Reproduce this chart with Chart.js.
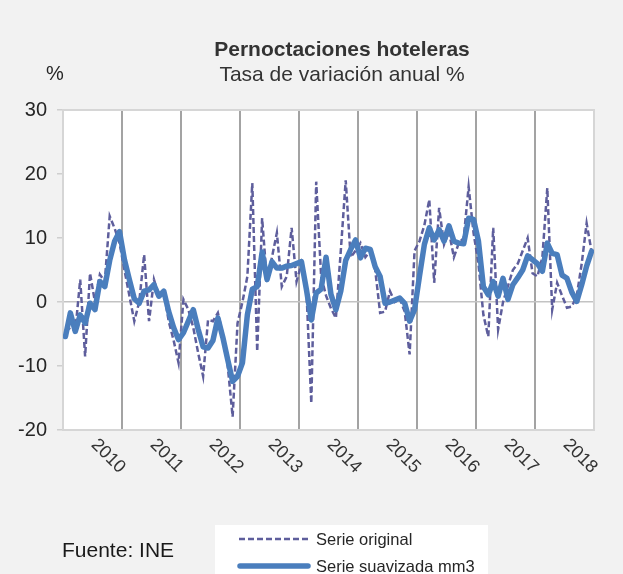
<!DOCTYPE html>
<html>
<head>
<meta charset="utf-8">
<script src="https://cdn.jsdelivr.net/npm/chart.js@4/dist/chart.umd.min.js"></script>
<style>
html,body{margin:0;padding:0;background:#f2f2f2;}
canvas{display:block;}
</style>
</head>
<body>
<canvas id="c" width="623" height="574"></canvas>
<script>
// ---- data ----
const years = ['2010','2011','2012','2013','2014','2015','2016','2017','2018'];
const monthNames = ['ene','feb','mar','abr','may','jun','jul','ago','sep','oct','nov','dic'];

const serieOriginal = [
  -4.6, -4.0, -4.5, 3.5, -8.5, 4.5, 0.0, 4.3, 3.2, 13.4, 11.5, 9.2,
  5.0, 1.0, -3.0, 0.0, 7.4, -3.0, 3.5, 1.0, 1.5, -3.0, -6.0, -9.5,
  0.4, -1.2, -4.0, -8.0, -11.6, -2.8, -3.0, -1.7, -5.0, -10.0, -17.9, -3.3,
  0.0, 4.0, 18.6, -7.7, 13.1, 3.0, 7.0, 10.8, 2.4, 4.0, 11.6, 3.2,
  6.0, 2.0, -15.8, 18.8, 4.0, 1.0, -1.0, -2.5, 8.0, 19.0, 7.0, 8.0,
  9.2, 7.0, 8.0, 5.0, -1.7, -1.5, 1.7, 0.0, 0.5, -1.5, -8.2, 8.0,
  9.5, 12.0, 16.0, 3.0, 14.7, 9.0, 11.0, 7.0, 9.2, 10.0, 18.0, 10.8,
  6.0, -2.0, -5.4, 11.6, -4.3, 0.0, 2.5, 5.0, 6.0, 8.0, 10.0, 4.5,
  4.0, 7.0, 17.8, -1.2, 3.0, 1.0, -0.9, -0.7, 1.0, 6.0, 12.3, 7.9
];

const serieSuavizada = [
  -5.4, -1.7, -4.6, -2.0, -3.3, -0.2, -1.2, 3.2, 2.4, 6.5, 9.5, 11.0,
  6.6, 3.5, 0.5, -0.2, 1.7, 1.9, 2.7, 0.9, 1.7, -1.5, -4.0, -5.9,
  -4.8, -3.0, -1.2, -4.3, -7.0, -7.2, -6.0, -2.5, -5.5, -9.0, -12.4, -11.6,
  -9.5, -2.0, 2.0, 2.4, 7.8, 3.5, 6.3, 5.3, 5.3, 5.6, 5.7, 6.0,
  6.3, 2.0, -2.8, 1.4, 2.0, 7.0, 1.2, -1.2, 1.7, 6.5, 8.2, 9.7,
  6.9, 8.4, 8.2, 5.5, 4.0, -0.2, 0.0, 0.3, 0.6, -0.2, -3.0, -1.2,
  4.0, 9.0, 11.6, 9.7, 11.3, 9.5, 11.9, 9.5, 9.2, 9.1, 13.1, 12.9,
  9.5, 2.4, 1.1, 3.2, 0.9, 3.7, 0.4, 2.7, 3.8, 5.0, 7.2, 6.6,
  6.0, 4.8, 9.2, 7.6, 7.4, 4.2, 3.7, 1.5, 0.1, 2.7, 5.6, 7.9
];

const yTickValues = [-20, -10, 0, 10, 20, 30];
const titleText = 'Pernoctaciones hoteleras';
const subtitleText = 'Tasa de variación anual %';
const unitText = '%';
const sourceText = 'Fuente: INE';
const legendLabels = ['Serie original', 'Serie suavizada mm3'];

// ---- build ----
const categories = [];
years.forEach(y => monthNames.forEach(m => categories.push(m + ' ' + y)));
const toPoints = arr => arr.map((v, i) => ({ x: i + 0.5, y: v }));

const FONT = "'Liberation Sans', Arial, sans-serif";
const COL_ORIG = '#5e5e9c';
const COL_SMOOTH = '#4a7ebd';

const deco = {
  id: 'deco',
  beforeDraw(chart) {
    const ctx = chart.ctx, a = chart.chartArea;
    ctx.save();
    ctx.fillStyle = '#f2f2f2';
    ctx.fillRect(0, 0, chart.width, chart.height);
    ctx.fillStyle = '#ffffff';
    ctx.fillRect(a.left, a.top, a.right - a.left, a.bottom - a.top);
    ctx.restore();
  },
  beforeDatasetsDraw(chart) {
    const ctx = chart.ctx, a = chart.chartArea;
    ctx.save();
    ctx.strokeStyle = '#d6d6d6';
    ctx.lineWidth = 2;
    ctx.strokeRect(a.left, a.top, a.right - a.left, a.bottom - a.top);
    ctx.restore();
  },
  afterDraw(chart) {
    const ctx = chart.ctx, xs = chart.scales.x;
    ctx.save();
    ctx.fillStyle = '#333333';
    ctx.textBaseline = 'alphabetic';
    ctx.textAlign = 'center';
    ctx.font = 'bold 21px ' + FONT;
    ctx.fillText(titleText, 342, 56);
    ctx.font = '21px ' + FONT;
    ctx.fillText(subtitleText, 342, 81);
    ctx.fillStyle = '#262626';
    ctx.font = '20px ' + FONT;
    ctx.fillText(unitText, 55, 80);

    // year labels, rotated clockwise
    ctx.font = '18px ' + FONT;
    ctx.fillStyle = '#333333';
    years.forEach((y, k) => {
      const xc = xs.getPixelForValue(12 * k + 6);
      ctx.save();
      ctx.translate(xc + 1.5, 442);
      ctx.rotate(Math.PI / 4);
      ctx.textAlign = 'left';
      ctx.textBaseline = 'middle';
      ctx.fillText(y, 0, 0);
      ctx.restore();
    });

    // source
    ctx.textAlign = 'left';
    ctx.textBaseline = 'alphabetic';
    ctx.fillStyle = '#1a1a1a';
    ctx.font = '21px ' + FONT;
    ctx.fillText(sourceText, 62, 557);

    // legend
    ctx.fillStyle = '#ffffff';
    ctx.fillRect(215, 525, 273, 60);
    ctx.strokeStyle = COL_ORIG;
    ctx.lineWidth = 2.5;
    ctx.setLineDash([6, 3]);
    ctx.beginPath(); ctx.moveTo(239, 539); ctx.lineTo(310, 539); ctx.stroke();
    ctx.setLineDash([]);
    ctx.strokeStyle = COL_SMOOTH;
    ctx.lineWidth = 5.5;
    ctx.lineCap = 'round';
    ctx.beginPath(); ctx.moveTo(240, 566); ctx.lineTo(308, 566); ctx.stroke();
    ctx.fillStyle = '#262626';
    ctx.font = '16.5px ' + FONT;
    ctx.fillText(legendLabels[0], 316, 545);
    ctx.fillText(legendLabels[1], 316, 572);
    ctx.restore();
  }
};

new Chart(document.getElementById('c'), {
  type: 'line',
  data: {
    datasets: [
      {
        label: legendLabels[1],
        data: toPoints(serieSuavizada),
        borderColor: COL_SMOOTH,
        borderWidth: 5.5,
        pointRadius: 0,
        tension: 0,
        borderJoinStyle: 'round',
        borderCapStyle: 'round',
        order: 0
      },
      {
        label: legendLabels[0],
        data: toPoints(serieOriginal),
        borderColor: COL_ORIG,
        borderWidth: 2.5,
        borderDash: [6, 3],
        pointRadius: 0,
        tension: 0,
        order: 1
      }
    ]
  },
  options: {
    responsive: false,
    animation: false,
    devicePixelRatio: 1,
    layout: { padding: { left: 0, right: 29, top: 110, bottom: 124 } },
    plugins: { legend: { display: false }, title: { display: false }, tooltip: { enabled: false } },
    scales: {
      x: {
        type: 'linear',
        min: 0,
        max: categories.length,
        ticks: { display: false, stepSize: 12 },
        grid: {
          color: c => (c.tick && (c.tick.value === 0 || c.tick.value === categories.length)) ? 'rgba(0,0,0,0)' : '#a3a3a3',
          lineWidth: 2,
          drawTicks: false
        },
        border: { display: false },
        afterFit: s => { s.height = 20; }
      },
      y: {
        min: yTickValues[0],
        max: yTickValues[yTickValues.length - 1],
        afterBuildTicks: s => { s.ticks = yTickValues.map(v => ({ value: v })); },
        ticks: { padding: 10, color: '#262626', font: { family: FONT, size: 20 } },
        grid: {
          color: c => (c.tick && c.tick.value === 0) ? '#c3c3c3' : 'rgba(0,0,0,0)',
          lineWidth: 1.5,
          tickLength: 6,
          tickColor: '#cfcfcf'
        },
        border: { display: false },
        afterFit: s => { s.width = 63; }
      }
    }
  },
  plugins: [deco]
});
</script>
</body>
</html>
